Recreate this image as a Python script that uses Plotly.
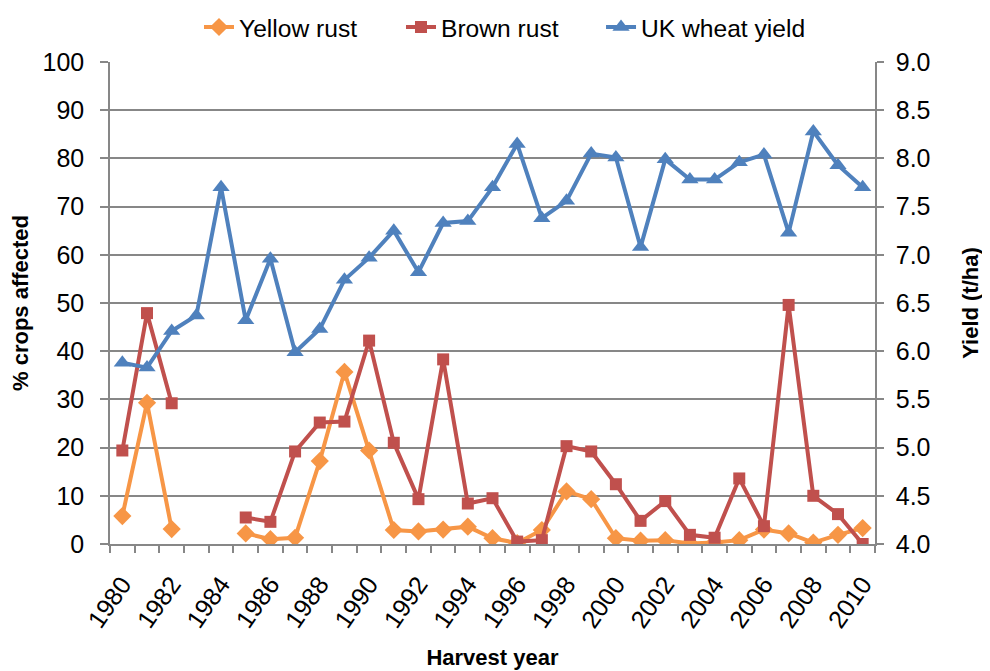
import plotly.graph_objects as go

years = list(range(1980, 2011))
yellow_rust = [5.8, 29.3, 3.1, None, None, 2.2, 1.0, 1.3, 17.2, 35.7, 19.4, 2.9, 2.6, 3.0, 3.6, 1.2,
               0.2, 2.9, 10.9, 9.3, 1.2, 0.7, 0.8, 0.1, 0.3, 0.8, 3.0, 2.2, 0.3, 1.9, 3.3]
brown_rust = [19.4, 47.9, 29.2, None, None, 5.5, 4.6, 19.2, 25.2, 25.4, 42.2, 21.0, 9.3, 38.3, 8.4, 9.5,
              0.5, 0.8, 20.3, 19.2, 12.4, 4.8, 8.9, 1.9, 1.3, 13.6, 3.7, 49.6, 10.0, 6.2, 0.0]
wheat_yield = [5.88, 5.83, 6.21, 6.37, 7.70, 6.32, 6.96, 5.99, 6.23, 6.74, 6.97, 7.25, 6.82, 7.33, 7.35, 7.70,
               8.15, 7.38, 7.56, 8.05, 8.01, 7.08, 7.99, 7.78, 7.78, 7.96, 8.04, 7.23, 8.28, 7.93, 7.70]
x_tick_years = list(range(1980, 2011, 2))
left_ticks = list(range(0, 101, 10))
right_ticks = [4.0 + 0.5 * i for i in range(11)]

font = "Liberation Sans, Arial, sans-serif"
grey = "#878787"

fig = go.Figure()
fig.add_trace(go.Scatter(x=years, y=yellow_rust, name="Yellow rust", mode="lines+markers",
                         line=dict(color="#F79646", width=4),
                         marker=dict(symbol="diamond", size=14, color="#F79646"),
                         connectgaps=False, legend="legend"))
fig.add_trace(go.Scatter(x=years, y=brown_rust, name="Brown rust", mode="lines+markers",
                         line=dict(color="#C0504D", width=4),
                         marker=dict(symbol="square", size=12, color="#C0504D"),
                         connectgaps=False, legend="legend2"))
fig.add_trace(go.Scatter(x=years, y=wheat_yield, name="UK wheat yield", mode="lines+markers",
                         line=dict(color="#4F81BD", width=4),
                         marker=dict(symbol="triangle-up", size=15, color="#4F81BD"),
                         yaxis="y2", legend="legend3"))


def legend_at(xfrac):
    return dict(orientation="h", xref="container", yref="container",
                x=xfrac, xanchor="left", y=0.9713, yanchor="middle",
                font=dict(size=24.6), bgcolor="rgba(0,0,0,0)")


fig.update_layout(
    width=982, height=663,
    margin=dict(l=102, r=115, t=54, b=127),
    paper_bgcolor="white", plot_bgcolor="white",
    font=dict(family=font, size=25, color="black"),
    showlegend=True,
    legend=legend_at(0.1945),
    legend2=legend_at(0.4002),
    legend3=legend_at(0.6039),
    xaxis=dict(range=[1979.5, 2010.5], tickmode="array", tickvals=x_tick_years,
               ticktext=[str(y) for y in x_tick_years], tickangle=-55, ticks="",
               ticklabelstandoff=14, automargin=False,
               showgrid=False, zeroline=False, showline=True, linecolor=grey, linewidth=1.5,
               minor=dict(ticks="outside", tick0=1979.5, dtick=1, ticklen=7, tickcolor=grey,
                          tickwidth=1.5, showgrid=False),
               tickfont=dict(size=25),
               title=dict(text="<b>Harvest year</b>", font=dict(size=22), standoff=18)),
    yaxis=dict(range=[0, 100], tickmode="array", tickvals=left_ticks, ticks="outside",
               ticklen=8, tickcolor=grey, tickwidth=1.5, ticklabelstandoff=11, automargin=False,
               showgrid=True, gridcolor=grey, gridwidth=1.5, zeroline=False,
               showline=True, linecolor=grey, linewidth=1.5, tickfont=dict(size=25),
               title=dict(text="<b>% crops affected</b>", font=dict(size=22), standoff=22)),
    yaxis2=dict(range=[4, 9], overlaying="y", side="right", tickmode="array", tickvals=right_ticks,
                tickformat=".1f", ticks="outside", ticklen=7, tickcolor=grey, tickwidth=1.5,
                ticklabelstandoff=7, automargin=False,
                showgrid=False, zeroline=False, showline=True, linecolor=grey, linewidth=1.5,
                tickfont=dict(size=25),
                title=dict(text="<b>Yield (t/ha)</b>", font=dict(size=22), standoff=33)),
)

fig.write_html("out.html")
